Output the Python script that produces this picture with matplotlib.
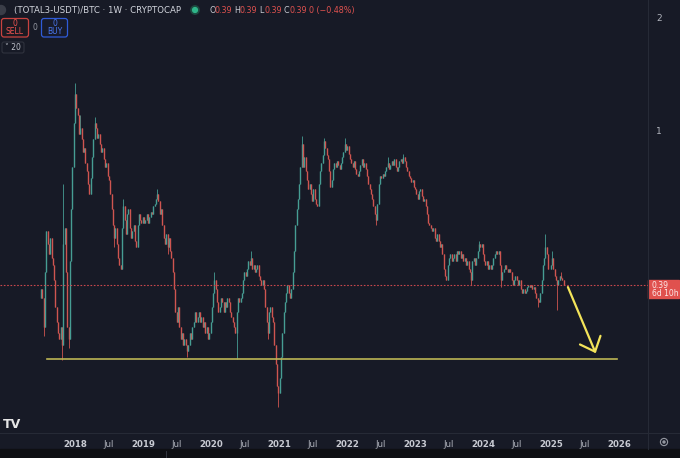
import pandas as pd
import matplotlib
matplotlib.use("Agg")
import matplotlib.pyplot as plt
import matplotlib.dates as mdates
from matplotlib.patches import Rectangle, Circle, FancyBboxPatch
from matplotlib.ticker import NullLocator

# (TOTAL3-USDT)/BTC weekly closes, first candle = week of 2017-07-03
start_week = "2017-07-03"
closes = [
    0.38, 0.36, 0.30, 0.42, 0.54, 0.50, 0.47, 0.52, 0.46, 0.44,
    0.40, 0.34, 0.31, 0.29, 0.28, 0.30, 0.27, 0.50, 0.55, 0.42,
    0.30, 0.28, 0.45, 0.62, 0.80, 1.05, 1.25, 1.15, 1.10, 0.98,
    1.02, 0.95, 0.88, 0.90, 0.82, 0.78, 0.72, 0.68, 0.75, 0.85,
    0.95, 1.05, 1.02, 0.96, 0.98, 0.92, 0.88, 0.90, 0.84, 0.80,
    0.82, 0.76, 0.74, 0.68, 0.62, 0.56, 0.52, 0.55, 0.50, 0.46,
    0.44, 0.43, 0.55, 0.63, 0.58, 0.53, 0.60, 0.62, 0.55, 0.52,
    0.54, 0.56, 0.51, 0.49, 0.56, 0.60, 0.58, 0.57, 0.59, 0.57,
    0.58, 0.60, 0.57, 0.59, 0.61, 0.60, 0.63, 0.64, 0.66, 0.68,
    0.65, 0.60, 0.62, 0.56, 0.52, 0.50, 0.53, 0.49, 0.52, 0.48,
    0.46, 0.42, 0.38, 0.33, 0.31, 0.34, 0.30, 0.28, 0.29, 0.27,
    0.28, 0.27, 0.26, 0.27, 0.29, 0.28, 0.30, 0.31, 0.33, 0.31,
    0.32, 0.33, 0.31, 0.32, 0.30, 0.31, 0.29, 0.30, 0.28, 0.29,
    0.31, 0.34, 0.37, 0.40, 0.38, 0.35, 0.33, 0.34, 0.36, 0.35,
    0.33, 0.35, 0.34, 0.36, 0.35, 0.33, 0.32, 0.31, 0.30, 0.29,
    0.33, 0.36, 0.35, 0.36, 0.37, 0.40, 0.42, 0.41, 0.43, 0.45,
    0.44, 0.46, 0.43, 0.44, 0.42, 0.43, 0.44, 0.41, 0.40, 0.39,
    0.40, 0.38, 0.34, 0.31, 0.29, 0.33, 0.34, 0.32, 0.31, 0.27,
    0.24, 0.21, 0.20, 0.22, 0.25, 0.29, 0.33, 0.35, 0.37, 0.39,
    0.37, 0.36, 0.38, 0.42, 0.48, 0.56, 0.62, 0.66, 0.72, 0.80,
    0.92, 0.80, 0.85, 0.78, 0.74, 0.70, 0.72, 0.68, 0.65, 0.70,
    0.66, 0.64, 0.63, 0.72, 0.78, 0.82, 0.86, 0.94, 0.90, 0.86,
    0.84, 0.78, 0.71, 0.74, 0.79, 0.82, 0.80, 0.83, 0.81, 0.79,
    0.82, 0.85, 0.88, 0.92, 0.89, 0.91, 0.87, 0.84, 0.82, 0.80,
    0.83, 0.79, 0.77, 0.76, 0.78, 0.81, 0.84, 0.80, 0.82, 0.79,
    0.76, 0.72, 0.70, 0.68, 0.66, 0.63, 0.60, 0.58, 0.64, 0.72,
    0.76, 0.75, 0.77, 0.76, 0.78, 0.80, 0.82, 0.79, 0.81, 0.83,
    0.81, 0.84, 0.80, 0.78, 0.80, 0.83, 0.84, 0.82, 0.85, 0.83,
    0.80, 0.78, 0.76, 0.75, 0.73, 0.74, 0.71, 0.70, 0.68, 0.66,
    0.69, 0.70, 0.67, 0.65, 0.66, 0.63, 0.60, 0.57, 0.56, 0.55,
    0.54, 0.55, 0.52, 0.51, 0.53, 0.51, 0.49, 0.50, 0.47, 0.43,
    0.41, 0.40, 0.44, 0.46, 0.47, 0.45, 0.46, 0.47, 0.45, 0.48,
    0.47, 0.48, 0.46, 0.47, 0.45, 0.46, 0.44, 0.45, 0.43, 0.42,
    0.40, 0.45, 0.46, 0.44, 0.46, 0.48, 0.50, 0.49, 0.50, 0.47,
    0.45, 0.44, 0.45, 0.43, 0.44, 0.43, 0.44, 0.46, 0.47, 0.48,
    0.47, 0.48, 0.44, 0.40, 0.42, 0.43, 0.44, 0.43, 0.42, 0.43,
    0.42, 0.40, 0.39, 0.40, 0.41, 0.40, 0.39, 0.40, 0.38, 0.37,
    0.38, 0.37, 0.375, 0.385, 0.39, 0.385, 0.39, 0.38, 0.385, 0.37,
    0.36, 0.355, 0.35, 0.37, 0.40, 0.44, 0.46, 0.49, 0.47, 0.43,
    0.43, 0.44, 0.46, 0.43, 0.41, 0.40, 0.39, 0.40, 0.41, 0.405,
    0.40, 0.39,
]
first_open = 0.36

# wicks that stick out of the bodies (week index -> price)
wick_high = {17: 0.72, 26: 1.34, 30: 1.10, 41: 1.09, 63: 0.66, 89: 0.70,
             133: 0.42, 161: 0.48, 200: 0.97, 217: 0.96, 233: 0.96,
             266: 0.85, 278: 0.87, 336: 0.51, 387: 0.53, 392: 0.48, 399: 0.42}
wick_low = {2: 0.285, 16: 0.245, 21: 0.265, 56: 0.49, 97: 0.47, 112: 0.25,
            150: 0.247, 174: 0.28, 182: 0.184, 257: 0.56, 330: 0.39,
            353: 0.385, 381: 0.34, 396: 0.334}

# drawings on the chart
support_level = 0.247
support_span = ["2017-08-04", "2025-12-21"]
arrow_from = ("2025-03-27", 0.39)
arrow_to = ("2025-09-04", 0.252)
last_price = 0.39
countdown = "6d 10h"
ohlc_text = ["0.39", "0.39", "0.39", "0.39", "0 (\u22120.48%)"]

bg = "#171a26"
up_col = "#469d93"
down_col = "#cf5550"
axis_txt = "#b2b5be"
W, H = 680, 458

fig = plt.figure(figsize=(W / 100, H / 100), dpi=100, facecolor=bg)
ax = fig.add_axes([0, 25 / H, 648 / W, 433 / H])
ax.set_facecolor(bg)
for s in ax.spines.values():
    s.set_visible(False)

dates = pd.date_range(start_week, periods=len(closes), freq="7D")
x = mdates.date2num(dates)
opens = [first_open] + closes[:-1]
cols, lo_b, hi_b, lo_w, hi_w = [], [], [], [], []
for i, (o, c) in enumerate(zip(opens, closes)):
    cols.append(up_col if c >= o else down_col)
    lo_b.append(min(o, c))
    hi_b.append(max(o, c))
    lo_w.append(wick_low.get(i, min(o, c)))
    hi_w.append(wick_high.get(i, max(o, c)))

ax.vlines(x, lo_w, hi_w, colors=cols, linewidth=0.6)
ax.vlines(x, lo_b, hi_b, colors=cols, linewidth=1.0)

# support line and current price line
sx = mdates.date2num(pd.to_datetime(support_span))
ax.plot(sx, [support_level, support_level], color="#bcb554", lw=1.2)
ax.axhline(last_price, color="#c9474c", lw=0.8, ls=(0, (1.5, 1.5)))

ax.annotate("", xy=(mdates.date2num(pd.Timestamp(arrow_to[0])), arrow_to[1]),
            xytext=(mdates.date2num(pd.Timestamp(arrow_from[0])), arrow_from[1]),
            arrowprops=dict(arrowstyle="->,head_length=0.9,head_width=0.8",
                            color="#f3e45a", lw=1.6, mutation_scale=10))

ax.set_yscale("log")
ax.set_ylim(0.157, 2.23)
ax.set_xlim(mdates.date2num(pd.Timestamp("2016-11-24")),
            mdates.date2num(pd.Timestamp("2026-06-06")))

ax.yaxis.tick_right()
ax.yaxis.set_minor_locator(NullLocator())
ax.set_yticks([1, 2])
ax.set_yticklabels(["1", "2"])
ax.tick_params(axis="y", length=0, pad=6, labelsize=6.5, labelcolor=axis_txt)

tick_dates, tick_labels = [], []
for yr in range(2018, 2027):
    tick_dates.append(pd.Timestamp(f"{yr}-01-01"))
    tick_labels.append(str(yr))
    if yr < 2026:
        tick_dates.append(pd.Timestamp(f"{yr}-07-01"))
        tick_labels.append("Jul")
ax.set_xticks(mdates.date2num(tick_dates))
ax.set_xticklabels(tick_labels)
ax.tick_params(axis="x", length=0, pad=5, labelsize=6.2, labelcolor=axis_txt)
for lbl in ax.get_xticklabels():
    if lbl.get_text() != "Jul":
        lbl.set_fontweight("bold")
        lbl.set_color("#c8cad2")

# overlay in pixel coordinates for the trading-view chrome
ov = fig.add_axes([0, 0, 1, 1], zorder=5)
ov.set_xlim(0, W)
ov.set_ylim(H, 0)
ov.axis("off")
ov.patch.set_alpha(0)

ov.add_patch(Rectangle((0, 449), W, 9, color="#0e0f13"))
ov.plot([0, W], [433, 433], color="#262a36", lw=0.8)
ov.plot([648, 648], [0, 449], color="#262a36", lw=0.8)
ov.plot([166, 166], [451, 458], color="#3a3d48", lw=0.6)

# price label
ov.add_patch(Rectangle((648, 280), 31, 18, color="#e0514e"))
ov.text(652, 285, f"{last_price:.2f}", color="#fde8e8", fontsize=5.5, va="center")
ov.text(652, 293.5, countdown, color="#fde8e8", fontsize=5.5, va="center")

# settings icon
ov.add_patch(Circle((664, 442), 3.6, fill=False, ec="#9598a1", lw=0.8))
ov.add_patch(Circle((664, 442), 1.0, color="#9598a1"))

# header
ov.add_patch(Circle((1, 10), 4.5, color="#3a3d48"))
ov.text(14, 10.5, "(TOTAL3-USDT)/BTC \u00b7 1W \u00b7 CRYPTOCAP", color="#d1d4dc",
        fontsize=6.2, va="center")
ov.add_patch(Circle((195, 10), 4.2, color="#1d4a40"))
ov.add_patch(Circle((195, 10), 2.4, color="#2fb58a"))
for k, (letter, val) in enumerate(zip(["O", "H", "L", "C", ""], ohlc_text)):
    x0 = 209 + 25 * k
    if letter:
        ov.text(x0, 10.5, letter, color="#c9ccd4", fontsize=5.8, va="center")
        ov.text(x0 + 5.5, 10.5, val, color="#e0524f", fontsize=5.8, va="center")
    else:
        ov.text(x0, 10.5, val, color="#e0524f", fontsize=5.8, va="center")

ov.add_patch(FancyBboxPatch((1.5, 18.5), 27, 18.5, boxstyle="round,pad=0,rounding_size=2.5",
                            fc="#1c1a22", ec="#c8423f", lw=0.9))
ov.text(15, 23.5, "0", color="#ef5350", fontsize=5.5, ha="center", va="center")
ov.text(15, 32, "SELL", color="#ef5350", fontsize=5.5, ha="center", va="center")
ov.text(34.5, 27.5, "0", color="#9598a1", fontsize=5.5, ha="center", va="center")
ov.add_patch(FancyBboxPatch((41.5, 18.5), 26, 18.5, boxstyle="round,pad=0,rounding_size=2.5",
                            fc="#181b2a", ec="#2f5bd8", lw=0.9))
ov.text(54.5, 23.5, "0", color="#4a78f0", fontsize=5.5, ha="center", va="center")
ov.text(54.5, 32, "BUY", color="#4a78f0", fontsize=5.5, ha="center", va="center")
ov.add_patch(FancyBboxPatch((2, 42), 22, 11, boxstyle="round,pad=0,rounding_size=2",
                            fc=bg, ec="#30333e", lw=0.8))
ov.text(13, 47.5, "\u02c5 20", color="#c0c3cc", fontsize=5.5, ha="center", va="center")

# logo
ov.text(3, 424, "TV", color="#e6e6e6", fontsize=9, fontweight="heavy", va="center")

fig.savefig("out.png", dpi=100, facecolor=bg)
